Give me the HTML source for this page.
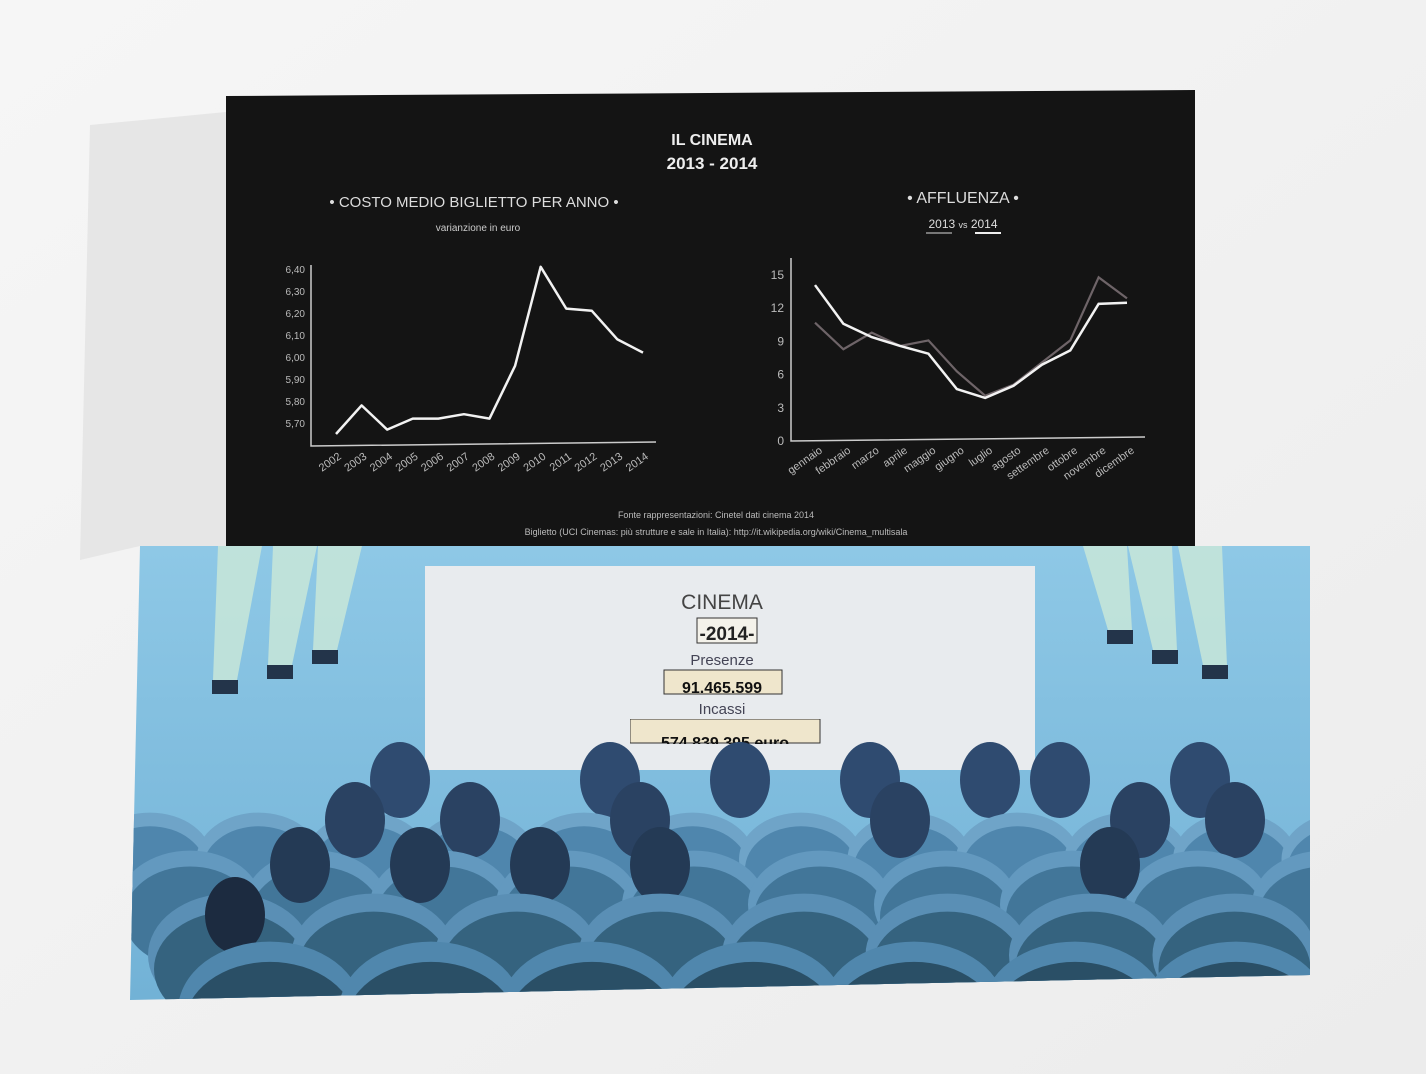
<!DOCTYPE html>
<html><head><meta charset="utf-8"><style>
html,body{margin:0;padding:0;width:1426px;height:1074px;overflow:hidden;background:#f2f2f2}
svg{display:block}
text{font-family:"Liberation Sans Narrow","Liberation Sans",sans-serif}
</style></head><body>
<svg id="root" width="1426" height="1074" viewBox="0 0 1426 1074">
<defs>
<linearGradient id="bg" x1="0" y1="0" x2="1" y2="1"><stop offset="0" stop-color="#f6f6f6"/><stop offset="1" stop-color="#ececec"/></linearGradient>
<linearGradient id="wall" x1="0" y1="0" x2="0" y2="1"><stop offset="0" stop-color="#8ec8e6"/><stop offset="1" stop-color="#72b2d6"/></linearGradient>
<clipPath id="panelClip"><polygon points="140,546 1310,546 1310,975 130,1000"/></clipPath>
</defs>
<rect width="1426" height="1074" fill="url(#bg)"/>
<polygon points="90,125 226,112 226,546 140,546 80,560" fill="#e2e2e2" opacity="0.8"/>
<polygon points="226,96 1195,90 1195,546 226,546" fill="#141414"/>
<text x="712" y="145" fill="#eee" font-size="16" font-weight="bold" text-anchor="middle">IL CINEMA</text>
<text x="712" y="169" fill="#eee" font-size="17" font-weight="bold" text-anchor="middle">2013 - 2014</text>
<text x="474" y="207" fill="#ddd" font-size="15" text-anchor="middle">• COSTO MEDIO BIGLIETTO PER ANNO •</text>
<text x="478" y="231" fill="#ccc" font-size="10" text-anchor="middle">varianzione in euro</text>
<text x="963" y="203" fill="#ddd" font-size="16" text-anchor="middle">• AFFLUENZA •</text>
<text x="963" y="228" fill="#ddd" font-size="12" text-anchor="middle">2013 <tspan font-size="9">vs</tspan> 2014</text>
<line x1="926" y1="233" x2="952" y2="233" stroke="#777" stroke-width="2"/>
<line x1="975" y1="233" x2="1001" y2="233" stroke="#eee" stroke-width="2"/>
<g id="left-chart"></g>
<g id="right-chart"></g>
<text x="716" y="518" fill="#bbb" font-size="9" text-anchor="middle">Fonte rappresentazioni: Cinetel dati cinema 2014</text>
<text x="716" y="535" fill="#bbb" font-size="9" text-anchor="middle">Biglietto (UCI Cinemas: più strutture e sale in Italia): http://it.wikipedia.org/wiki/Cinema_multisala</text>
<polygon points="140,546 1310,546 1310,975 130,1000" fill="url(#wall)"/>
<g id="lights" clip-path="url(#panelClip)"></g>
<rect x="425" y="566" width="610" height="204" fill="#e8ebee"/>
<text x="722" y="609" fill="#444" font-size="21" text-anchor="middle" font-family="Liberation Sans">CINEMA</text>
<rect x="697" y="618" width="60" height="25" fill="#f4f2ea" stroke="#333"/>
<text x="727" y="640" fill="#222" font-size="19" font-weight="bold" text-anchor="middle" font-family="Liberation Sans">-2014-</text>
<text x="722" y="665" fill="#445" font-size="15" text-anchor="middle" font-family="Liberation Sans">Presenze</text>
<rect x="664" y="670" width="118" height="24" fill="#efe6cc" stroke="#333"/>
<text x="722" y="693" fill="#111" font-size="16" font-weight="bold" text-anchor="middle" font-family="Liberation Sans">91.465.599</text>
<text x="722" y="714" fill="#445" font-size="15" text-anchor="middle" font-family="Liberation Sans">Incassi</text>
<svg x="630" y="719" width="191" height="25" overflow="hidden">
<rect x="0" y="0" width="190" height="24" fill="#efe6cc" stroke="#333"/>
<text x="95" y="29" fill="#111" font-size="16" font-weight="bold" text-anchor="middle" font-family="Liberation Sans">574.839.395 euro</text>
</svg>
<g id="audience" clip-path="url(#panelClip)"></g>
</svg>
<script>
const years=["2002","2003","2004","2005","2006","2007","2008","2009","2010","2011","2012","2013","2014"];
const prices=[5.65,5.78,5.67,5.72,5.72,5.74,5.72,5.96,6.41,6.22,6.21,6.08,6.02];
const priceTicks=[5.7,5.8,5.9,6.0,6.1,6.2,6.3,6.4];
const months=["gennaio","febbraio","marzo","aprile","maggio","giugno","luglio","agosto","settembre","ottobre","novembre","dicembre"];
const att2013=[10.6,8.2,9.7,8.5,9.0,6.2,4.0,5.0,7.0,9.0,14.7,12.8];
const att2014=[14.0,10.5,9.3,8.5,7.8,4.6,3.8,4.9,6.8,8.1,12.3,12.4];
const attTicks=[0,3,6,9,12,15];
const NS="http://www.w3.org/2000/svg";
function mk(tag,attrs,parent){const e=document.createElementNS(NS,tag);for(const k in attrs)e.setAttribute(k,attrs[k]);parent.appendChild(e);return e;}
const L=document.getElementById('left-chart');
const lx=i=>336+i*(643-336)/(years.length-1);
const ly=v=>423-(v-5.7)/0.1*22;
let a=mk('polyline',{points:"311,265 311,446 656,442",fill:"none",stroke:"#ccc","stroke-width":1.5},L);


priceTicks.forEach(t=>{const e=mk('text',{x:305,y:ly(t)+4,fill:"#bbb","font-size":10,"text-anchor":"end"},L);e.textContent=t.toFixed(2).replace('.',',');

});
years.forEach((y,i)=>{const e=mk('text',{x:lx(i)+6,y:458,fill:"#bbb","font-size":11,"text-anchor":"end",transform:`rotate(-35 ${lx(i)+6} 458)`},L);e.textContent=y;

});
let pl=mk('polyline',{points:prices.map((v,i)=>lx(i)+","+ly(v)).join(" "),fill:"none",stroke:"#f2f2f2","stroke-width":2.5,"stroke-linejoin":"round"},L);


const R=document.getElementById('right-chart');
const rx=i=>815+i*(1127-815)/(months.length-1);
const ry=v=>440-v*(440-274)/15;
a=mk('polyline',{points:"791,258 791,441 1145,437",fill:"none",stroke:"#ccc","stroke-width":1.5},R);


attTicks.forEach(t=>{const e=mk('text',{x:784,y:ry(t)+5,fill:"#bbb","font-size":12,"text-anchor":"end"},R);e.textContent=t;

});
months.forEach((m,i)=>{const e=mk('text',{x:rx(i)+8,y:452,fill:"#bbb","font-size":11,"text-anchor":"end",transform:`rotate(-35 ${rx(i)+8} 452)`},R);e.textContent=m;

});
pl=mk('polyline',{points:att2013.map((v,i)=>rx(i)+","+ry(v)).join(" "),fill:"none",stroke:"#6e6468","stroke-width":2.2},R);


pl=mk('polyline',{points:att2014.map((v,i)=>rx(i)+","+ry(v)).join(" "),fill:"none",stroke:"#f2f2f2","stroke-width":2.5},R);


const S=document.getElementById('lights');
[[225,680,-1],[280,665,-1],[325,650,-1],[1120,630,1],[1165,650,1],[1215,665,1]].forEach(([x,y,d])=>{
 const b=mk('polygon',{points:`${x-12},${y} ${x+12},${y} ${x-d*15+22},546 ${x-d*15-22},546`,fill:"#c8e6d8",opacity:0.85},S);
 
 
 const l=mk('rect',{x:x-13,y:y,width:26,height:14,fill:"#23344a"},S);
 
 
});
const A=document.getElementById('audience');
const rows=[{y:825,heads:[400,610,740,870,990,1060,1200],seat:"#4f86ad",band:"#6fa4c8",r:62,head:"#2f4b70"},
 {y:865,heads:[355,470,640,900,1140,1235],seat:"#427699",band:"#6399bf",r:72,head:"#2a4262"},
 {y:910,heads:[300,420,540,660,1110],seat:"#35637f",band:"#5a8fb5",r:82,head:"#243a55"},
 {y:960,heads:[235],seat:"#2a4f66",band:"#5087ad",r:92,head:"#1c2b40"}];
rows.forEach((row,ri)=>{
 row.heads.forEach(hx=>{const c=mk('ellipse',{cx:hx,cy:row.y-45,rx:30,ry:38,fill:row.head},A);
 
 });
 for(let x=150+ri*40;x<1360;x+=row.r*1.75){
  const s=mk('ellipse',{cx:x,cy:row.y+row.r*0.55,rx:row.r,ry:row.r*0.75,fill:row.band},A);
  
  
  const t=mk('ellipse',{cx:x,cy:row.y+row.r*0.72,rx:row.r-6,ry:row.r*0.7,fill:row.seat},A);
  
  
 }
});
</script>
</body></html>
